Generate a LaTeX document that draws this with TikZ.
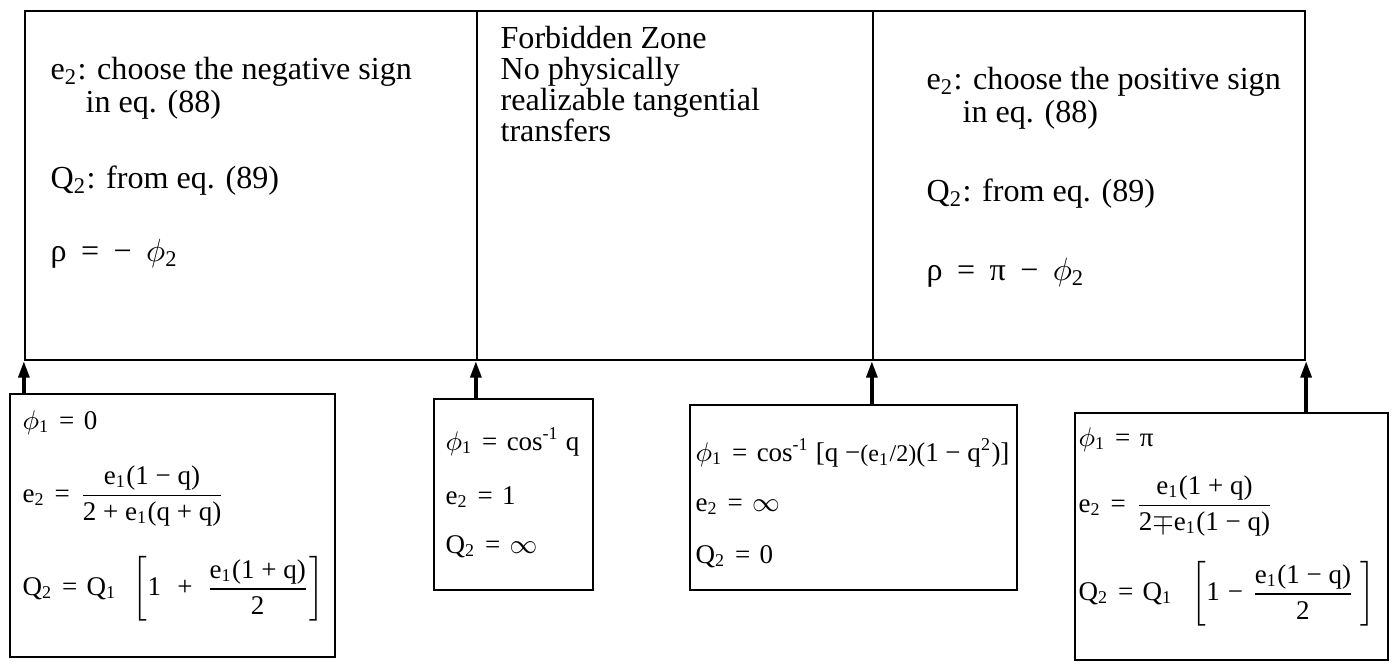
\RequirePackage{fix-cm}
\documentclass[tikz,border=0pt]{standalone}
\usepackage{amsmath}
\usepackage{fontspec}
\setmainfont{Liberation Serif}
\usetikzlibrary{arrows.meta,fit}

\newcommand{\lo}[1]{\textsubscript{#1}}
\newcommand{\isq}{\hspace{0.35em}=\hspace{0.35em}}
\newcommand{\wsp}{\hspace{0.45em}}

\begin{document}
\begin{tikzpicture}[
    x=0.3333pt, y=-0.3333pt,
    frame/.style={draw, line width=0.75pt, inner sep=0pt},
    txt/.style={anchor=base west, inner sep=0pt, font=\fontsize{10.7}{12}\selectfont},
    eqn/.style={anchor=west, inner sep=0pt, font=\fontsize{9}{11}\selectfont},
    arr/.style={-{Triangle[length=5.5pt, width=3.6pt]}, line width=1.2pt}
]
\useasboundingbox (0,0) rectangle (1392,664);

% upper panels
\node[frame, fit={(25,11) (477,360)}] (neg) {};
\node[frame, fit={(477,11) (873,360)}] (zone) {};
\node[frame, fit={(873,11) (1305,360)}] (pos) {};

\node[txt] (neg1) at (50,80) {e\lo{2}: choose the negative sign};
\node[txt] (neg2) at (85,113) {in eq. (88)};
\node[txt] (neg3) at (50,189) {Q\lo{2}: from eq. (89)};
\node[txt] (neg4) at (50,262) {ρ\wsp=\wsp−\wsp$\phi$\lo{2}};

\node[txt] (zone1) at (500,49) {Forbidden Zone};
\node[txt] (zone2) at (500,80) {No physically};
\node[txt] (zone3) at (500,111) {realizable tangential};
\node[txt] (zone4) at (500,142) {transfers};

\node[txt] (pos1) at (926,90) {e\lo{2}: choose the positive sign};
\node[txt] (pos2) at (962,123) {in eq. (88)};
\node[txt] (pos3) at (926,202) {Q\lo{2}: from eq. (89)};
\node[txt] (pos4) at (926,281) {ρ\wsp=\wsp π\wsp−\wsp$\phi$\lo{2}};

% boundary cases
\node[frame, fit={(10,394) (335,657)}] (b1) {};
\node[frame, fit={(434,399) (593,590)}] (b2) {};
\node[frame, fit={(690,405) (1017,590)}] (b3) {};
\node[frame, fit={(1075,413) (1388,660)}] (b4) {};

\node[eqn] (b1a) at (22,423) {$\phi$\lo{1}\isq 0};
\node[eqn] (b1b) at (22,496) {e\lo{2}\isq $\dfrac{\text{e\lo{1}(1 − q)}}{\text{2 + e\lo{1}(q + q)}}$};
\node[eqn] (b1c) at (22,589) {Q\lo{2}\isq Q\lo{1}\hspace{0.6em}$\bigg[\text{1\hspace{0.6em}+\hspace{0.5em}}\dfrac{\text{e\lo{1}(1 + q)}}{\text{2}}\bigg]$};

\node[eqn] (b2a) at (445,442) {$\phi$\lo{1}\isq cos\textsuperscript{-1} q};
\node[eqn] (b2b) at (445,497) {e\lo{2}\isq 1};
\node[eqn] (b2c) at (445,547) {Q\lo{2}\isq $\infty$};

\node[eqn] (b3a) at (695,453) {$\phi$\lo{1}\isq cos\textsuperscript{-1} [q −{\footnotesize(e\lo{1}/2)}(1 − q\textsuperscript{2})]};
\node[eqn] (b3b) at (695,507) {e\lo{2}\isq $\infty$};
\node[eqn] (b3c) at (695,557) {Q\lo{2}\isq 0};

\node[eqn] (b4a) at (1078,440) {$\phi$\lo{1}\isq π};
\node[eqn] (b4b) at (1078,506) {e\lo{2}\isq $\dfrac{\text{e\lo{1}(1 + q)}}{\text{2$\mp$e\lo{1}(1 − q)}}$};
\node[eqn] (b4c) at (1078,594) {Q\lo{2}\isq Q\lo{1}\hspace{0.7em}$\bigg[\text{1\hspace{0.3em}−\hspace{0.3em}}\dfrac{\text{e\lo{1}(1 − q)}}{\text{2}}\hspace{0.2em}\bigg]$};

\draw[arr] (b1.north -| neg.south west) -- (neg.south west);
\draw[arr] (b2.north -| zone.south west) -- (zone.south west);
\draw[arr] (b3.north -| pos.south west) -- (pos.south west);
\draw[arr] (b4.north -| pos.south east) -- (pos.south east);
\end{tikzpicture}
\end{document}
